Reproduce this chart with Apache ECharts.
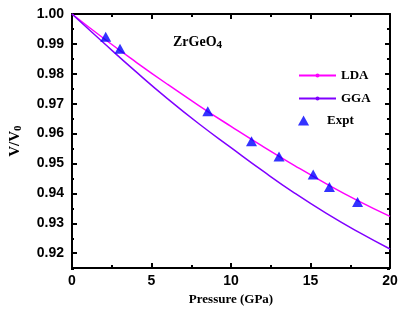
<!DOCTYPE html>
<html><head><meta charset="utf-8">
<script src="https://cdn.jsdelivr.net/npm/echarts@6/dist/echarts.min.js"></script>
<style>html,body{margin:0;padding:0;background:#fff}#c{width:402px;height:311px}</style>
</head><body><div id="c"></div>
<script>
const pressure = [0, 2, 4, 6, 8, 10, 12, 14, 16, 18, 20];
const ldaValues = [1.0, 0.9918, 0.9840, 0.9765, 0.9693, 0.9624, 0.9557, 0.9493, 0.9432, 0.9375, 0.9323];
const ggaValues = [1.0, 0.9903, 0.9808, 0.9717, 0.9632, 0.9553, 0.9475, 0.9401, 0.9333, 0.9271, 0.9214];
const exptP = [2.12, 3.02, 8.54, 11.29, 13.02, 15.17, 16.19, 17.96];
const exptV = [0.9924, 0.9884, 0.9675, 0.9574, 0.9523, 0.9463, 0.9421, 0.9371];
const yMajor = [0.92, 0.93, 0.94, 0.95, 0.96, 0.97, 0.98, 0.99, 1.00];
const yMinor = [0.915, 0.925, 0.935, 0.945, 0.955, 0.965, 0.975, 0.985, 0.995];

const serif = 'Liberation Serif';
const sans = 'Liberation Sans';
const mkLine = (show) => ({show: show !== false, onZero: false, lineStyle: {color: '#000', width: 2}});
const mkTick = (len, vals) => {
  const t = {show: true, inside: true, length: len, lineStyle: {color: '#000', width: 2}};
  if (vals) t.customValues = vals;
  return t;
};
const chart = echarts.init(document.getElementById('c'));
const gridBox = () => ({left: 71, right: 12, top: 14, bottom: 42});
const yBase = () => ({type: 'value', min: 0.915, max: 1.0, splitLine: {show: false}, axisLine: mkLine()});
chart.setOption({
  animation: false,
  grid: [gridBox(), gridBox()],
  xAxis: [
    {type: 'value', gridIndex: 0, position: 'bottom', min: 0, max: 20, interval: 5,
     axisLine: mkLine(), splitLine: {show: false},
     axisTick: mkTick(5),
     minorTick: {show: true, splitNumber: 2, length: 3, lineStyle: {color: '#000', width: 2}},
     axisLabel: {color: '#000', fontFamily: sans, fontWeight: 'bold', fontSize: 14, margin: 6},
     name: 'Pressure (GPa)', nameLocation: 'middle', nameGap: 14,
     nameTextStyle: {color: '#000', fontFamily: serif, fontWeight: 'bold', fontSize: 13, verticalAlign: 'top'}},
    {type: 'value', gridIndex: 0, position: 'top', min: 0, max: 20, interval: 5,
     axisLine: mkLine(), splitLine: {show: false},
     axisTick: mkTick(5),
     minorTick: {show: true, splitNumber: 2, length: 3, lineStyle: {color: '#000', width: 2}},
     axisLabel: {show: false}},
    {type: 'value', gridIndex: 1, min: 0, max: 20, show: false}
  ],
  yAxis: [
    Object.assign(yBase(), {gridIndex: 0, position: 'left',
     axisTick: mkTick(5, yMajor),
     axisLabel: {customValues: yMajor, formatter: v => v.toFixed(2), color: '#000', fontFamily: sans, fontWeight: 'bold', fontSize: 14, margin: 8},
     name: '{a|V/V}{b|0}', nameLocation: 'middle', nameGap: 48, nameRotate: 90,
     nameTextStyle: {rich: {
       a: {color: '#000', fontFamily: serif, fontWeight: 'bold', fontSize: 15, lineHeight: 16, verticalAlign: 'top'},
       b: {color: '#000', fontFamily: serif, fontWeight: 'bold', fontSize: 11, lineHeight: 6, verticalAlign: 'bottom'}}}}),
    Object.assign(yBase(), {gridIndex: 0, position: 'right',
     axisTick: mkTick(5, yMajor), axisLabel: {show: false}}),
    Object.assign(yBase(), {gridIndex: 1, position: 'left', axisLine: mkLine(false),
     axisTick: mkTick(3, yMinor), axisLabel: {show: false}}),
    Object.assign(yBase(), {gridIndex: 1, position: 'right', axisLine: mkLine(false),
     axisTick: mkTick(3, yMinor), axisLabel: {show: false}})
  ],
  legend: [{
    orient: 'vertical', left: 298, top: 69, padding: 0, itemWidth: 37, itemHeight: 5, itemGap: 10,
    textStyle: {color: '#000', fontFamily: serif, fontWeight: 'bold', fontSize: 13},
    data: ['LDA', 'GGA']
  }, {
    orient: 'vertical', left: 298, top: 114, padding: 0, itemWidth: 37, itemHeight: 10,
    icon: 'path://M5,0L10,9L0,9Z', symbolKeepAspect: true,
    textStyle: {color: '#000', fontFamily: serif, fontWeight: 'bold', fontSize: 13},
    data: ['Expt']
  }],
  graphic: [{
    type: 'text', left: 173, top: 35,
    style: {rich: {
      a: {fill: '#000', fontFamily: serif, fontWeight: 'bold', fontSize: 14, lineHeight: 16, verticalAlign: 'top'},
      b: {fill: '#000', fontFamily: serif, fontWeight: 'bold', fontSize: 11, lineHeight: 5, verticalAlign: 'bottom'}},
      text: '{a|ZrGeO}{b|4}'}
  }],
  series: [
    {name: 'LDA', type: 'line', smooth: true, showSymbol: false, symbol: 'circle', symbolSize: 4,
     xAxisIndex: 0, yAxisIndex: 0,
     itemStyle: {color: '#ff00ff'}, lineStyle: {color: '#ff00ff', width: 1.5},
     data: pressure.map((p, i) => [p, ldaValues[i]])},
    {name: 'GGA', type: 'line', smooth: true, showSymbol: false, symbol: 'circle', symbolSize: 4,
     xAxisIndex: 0, yAxisIndex: 0,
     itemStyle: {color: '#8000ff'}, lineStyle: {color: '#8000ff', width: 1.5},
     data: pressure.map((p, i) => [p, ggaValues[i]])},
    {name: 'Expt', type: 'scatter', symbol: 'triangle', symbolSize: [11, 10],
     xAxisIndex: 0, yAxisIndex: 0,
     itemStyle: {color: '#0000ff'}, z: 5,
     data: exptP.map((p, i) => [p, exptV[i]])}
  ]
});
</script></body></html>
